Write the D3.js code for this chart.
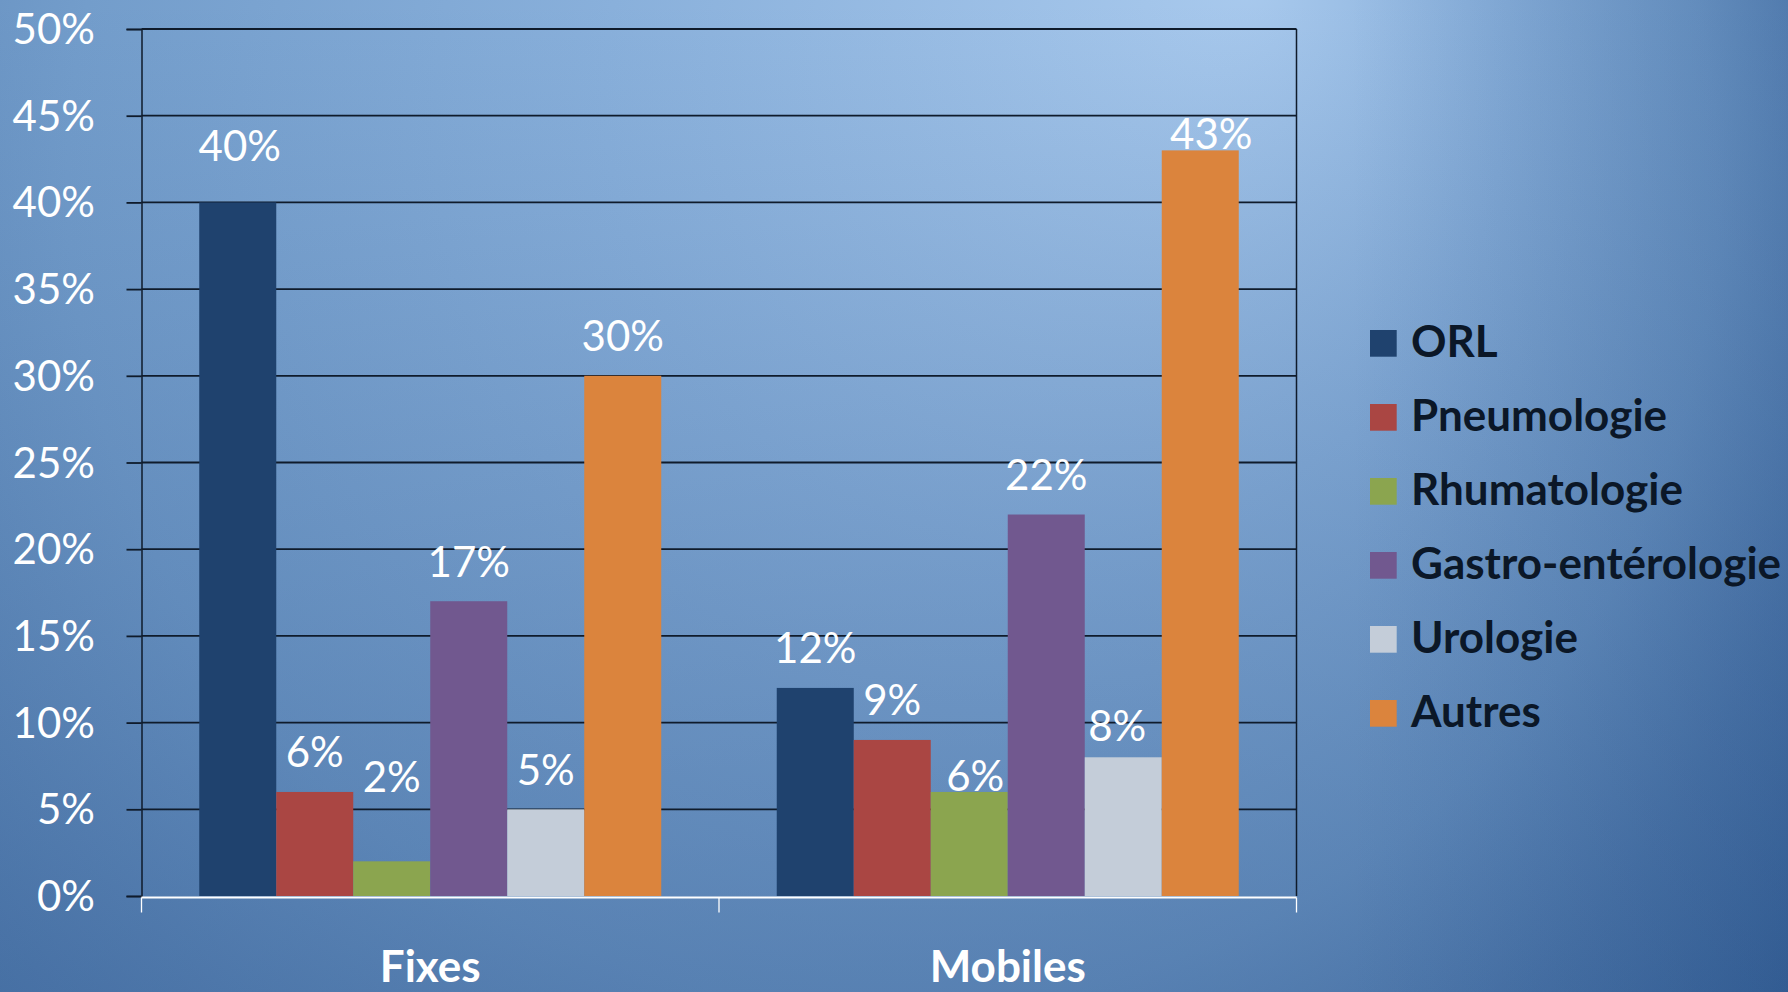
<!DOCTYPE html>
<html><head><meta charset="utf-8">
<script src="https://cdn.jsdelivr.net/npm/d3@7"></script>
<style>html,body{margin:0;padding:0;overflow:hidden;background:#4f7aab}</style>
</head><body>
<svg id="c" width="1788" height="992"></svg>
<script>
// ---- data ----
const categories = ["Fixes", "Mobiles"];
const series = ["ORL", "Pneumologie", "Rhumatologie", "Gastro-entérologie", "Urologie", "Autres"];
const fixesValues   = [0.40, 0.06, 0.02, 0.17, 0.05, 0.30];
const mobilesValues = [0.12, 0.09, 0.06, 0.22, 0.08, 0.43];
const yTicks = [0, 0.05, 0.10, 0.15, 0.20, 0.25, 0.30, 0.35, 0.40, 0.45, 0.50];
const colors = ["#1f426e", "#aa4643", "#8ba54f", "#71588f", "#c4cdd9", "#db843d"];
// label nudges (pixels: dx, extra lift) as placed in the original slide
const labelNudge = {
  "Fixes|ORL": [2, 17], "Fixes|Rhumatologie": [0, 44.5],
  "Mobiles|Rhumatologie": [6, -23.5], "Mobiles|Urologie": [-6, -8], "Mobiles|Autres": [11, -23]
};

const values = {Fixes: fixesValues, Mobiles: mobilesValues};
const rows = [];
categories.forEach(c => series.forEach((s, i) => rows.push({cat: c, ser: s, i, v: values[c][i]})));

const svg = d3.select("#c");
const W = 1788, H = 992;
const L = 141.5, R = 1296.5, T = 29, B = 896;

// background
const defs = svg.append("defs");
const rg = defs.append("radialGradient").attr("id", "bg").attr("gradientUnits", "userSpaceOnUse")
  .attr("cx", 600).attr("cy", 350).attr("r", 1500).attr("fx", 1250).attr("fy", -20);
[[0, "#a8c9ed"], [0.3, "#89b0db"], [0.55, "#739dcb"], [0.7, "#5e88b9"], [0.86, "#4b76a9"], [1, "#3d679b"]]
  .forEach(([o, c]) => rg.append("stop").attr("offset", o).attr("stop-color", c));
svg.append("rect").attr("width", W).attr("height", H).attr("fill", "url(#bg)");
const lg = defs.append("linearGradient").attr("id", "shade").attr("x1", 0).attr("y1", 0).attr("x2", 0).attr("y2", 1);
lg.append("stop").attr("offset", 0).attr("stop-color", "#163e78").attr("stop-opacity", 0);
lg.append("stop").attr("offset", 1).attr("stop-color", "#163e78").attr("stop-opacity", 0.3);
svg.append("rect").attr("width", W).attr("height", H).attr("fill", "url(#shade)");
const lg2 = defs.append("linearGradient").attr("id", "shadeR").attr("gradientUnits", "userSpaceOnUse")
  .attr("x1", 1350).attr("y1", 0).attr("x2", 1788).attr("y2", 0);
lg2.append("stop").attr("offset", 0).attr("stop-color", "#163e78").attr("stop-opacity", 0);
lg2.append("stop").attr("offset", 1).attr("stop-color", "#163e78").attr("stop-opacity", 0.22);
svg.append("rect").attr("width", W).attr("height", H).attr("fill", "url(#shadeR)");

const x0 = d3.scaleBand().domain(categories).range([L, R]).paddingInner(0).paddingOuter(0);
const x1 = d3.scaleBand().domain(series).range([x0.bandwidth() * 0.1, x0.bandwidth() * 0.9]).padding(0);
const y = d3.scaleLinear().domain([0, 0.5]).range([B, T]);

const dark = "#0f1b2b";
const font = "Lato, 'Open Sans', sans-serif";

// gridlines + left axis
const yAxis = d3.axisLeft(y).tickValues(yTicks).tickSize(15).tickFormat(d3.format(".0%"));
const gy = svg.append("g").attr("transform", `translate(${L},0)`).call(yAxis);
gy.select(".domain").attr("stroke", dark).attr("stroke-width", 1.5);
gy.selectAll(".tick line").attr("stroke", dark).attr("stroke-width", 1.8);
gy.selectAll(".tick text").attr("fill", "#fff").attr("font-family", font).attr("font-size", 42)
  .attr("x", -46.5).attr("dy", 14.5);
const grid = svg.append("g");
grid.selectAll("line").data(yTicks.filter(d => d > 0)).join("line")
  .attr("x1", L).attr("x2", R).attr("y1", d => y(d)).attr("y2", d => y(d))
  .attr("stroke", dark).attr("stroke-width", 1.8);
svg.append("line").attr("x1", R).attr("x2", R).attr("y1", T).attr("y2", B)
  .attr("stroke", dark).attr("stroke-width", 1.5);

// bars
svg.append("g").selectAll("rect").data(rows).join("rect")
  .attr("x", d => x0(d.cat) + x1(d.ser)).attr("width", x1.bandwidth())
  .attr("y", d => y(d.v)).attr("height", d => B - y(d.v))
  .attr("fill", d => colors[d.i]);

// bottom axis (white)
const gx = svg.append("g").attr("transform", `translate(0,${B + 1.5})`);
gx.append("line").attr("x1", L).attr("x2", R).attr("stroke", "#fff").attr("stroke-width", 1.8);
const edges = [L, ...categories.map(c => x0(c) + x0.bandwidth())];
gx.selectAll("line.t").data(edges).join("line").attr("class", "t")
  .attr("x1", d => d).attr("x2", d => d).attr("y1", 0).attr("y2", 15)
  .attr("stroke", "#fff").attr("stroke-width", 1.3);
svg.append("g").selectAll("text").data(categories).join("text")
  .attr("x", d => x0(d) + x0.bandwidth() / 2).attr("y", 982)
  .attr("text-anchor", "middle").attr("fill", "#fff").attr("font-family", font)
  .attr("font-weight", 700).attr("font-size", 44).text(d => d);

// data labels
svg.append("g").selectAll("text").data(rows).join("text")
  .attr("x", d => x0(d.cat) + x1(d.ser) + x1.bandwidth() / 2 + (labelNudge[d.cat + "|" + d.ser] || [0, 0])[0])
  .attr("y", d => y(d.v) - 24.5 - (labelNudge[d.cat + "|" + d.ser] || [0, 0])[1])
  .attr("text-anchor", "middle").attr("fill", "#fff").attr("font-family", font)
  .attr("font-size", 42).text(d => d3.format(".0%")(d.v));

// legend
const leg = svg.append("g").attr("transform", "translate(1370,330)");
const li = leg.selectAll("g").data(series).join("g").attr("transform", (d, i) => `translate(0,${i * 74})`);
li.append("rect").attr("width", 26.7).attr("height", 26.7).attr("fill", (d, i) => colors[i]);
li.append("text").attr("x", 41).attr("y", 27.3).attr("fill", "#0b1727").attr("font-family", font)
  .attr("font-weight", 700).attr("font-size", 44).text(d => d);
</script>
</body></html>
